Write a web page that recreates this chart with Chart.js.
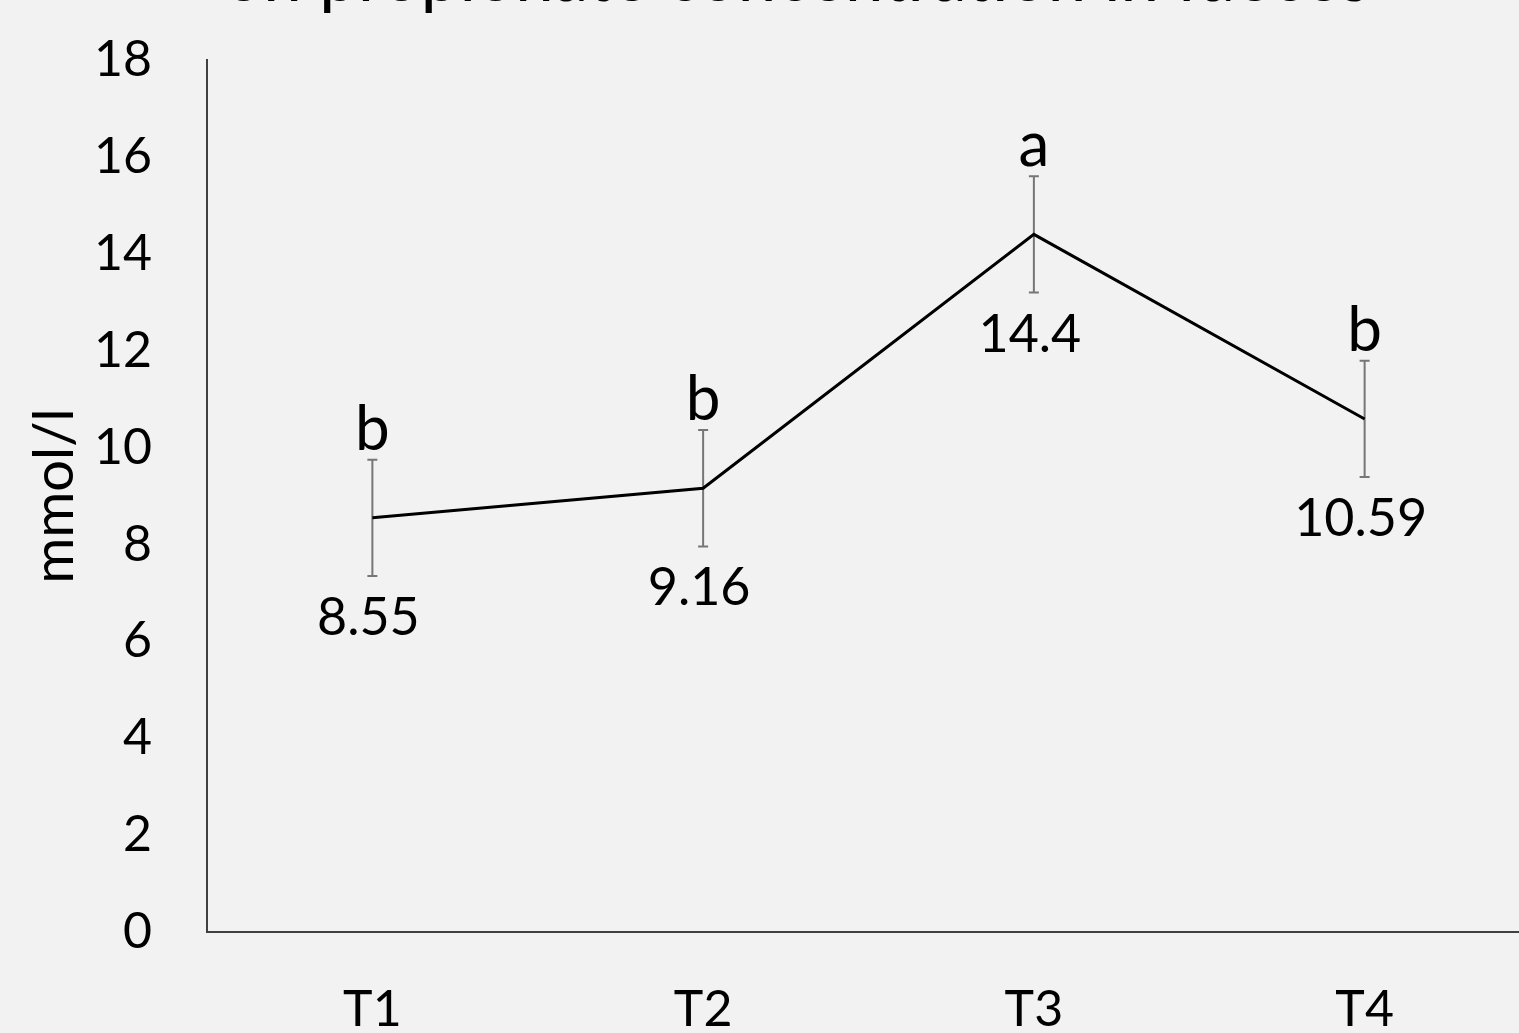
<!DOCTYPE html>
<html>
<head>
<meta charset="utf-8">
<script src="https://cdn.jsdelivr.net/npm/chart.js"></script>
<style>
  html, body { margin: 0; padding: 0; background: #f2f2f2; overflow: hidden; width: 1519px; height: 1033px; }
  #wrap { position: absolute; left: 0; top: -57px; width: 1594px; height: 1090px; }
</style>
</head>
<body>
<div id="wrap"><canvas id="chart"></canvas></div>
<script>
const categories = ['T1', 'T2', 'T3', 'T4'];
const means = [8.55, 9.16, 14.4, 10.59];
const errors = [1.2, 1.2, 1.2, 1.2];
const letters = ['b', 'b', 'a', 'b'];
const valueLabels = ['8.55', '9.16', '14.4', '10.59'];
const titleText = 'on propionate concentration in faeces';
const yTitle = 'mmol/l';

const fontFamily = 'Lato, "Open Sans", sans-serif';

const errorBars = {
  id: 'errorBars',
  beforeDatasetsDraw(chart) {
    const ctx = chart.ctx;
    const x = chart.scales.x;
    const y = chart.scales.y;
    ctx.save();
    ctx.strokeStyle = '#767676';
    ctx.lineWidth = 2;
    means.forEach(function(m, i) {
      const px = x.getPixelForValue(i);
      const top = y.getPixelForValue(m + errors[i]);
      const bot = y.getPixelForValue(m - errors[i]);
      ctx.beginPath();
      ctx.moveTo(px, top); ctx.lineTo(px, bot);
      ctx.moveTo(px - 5, top); ctx.lineTo(px + 5, top);
      ctx.moveTo(px - 5, bot); ctx.lineTo(px + 5, bot);
      ctx.stroke();
    });
    ctx.restore();
  },
  afterDatasetsDraw(chart) {
    const ctx = chart.ctx;
    const x = chart.scales.x;
    const y = chart.scales.y;
    ctx.save();
    ctx.fillStyle = '#000';
    ctx.textAlign = 'center';
    ctx.textBaseline = 'alphabetic';
    means.forEach(function(m, i) {
      const px = x.getPixelForValue(i);
      const top = y.getPixelForValue(m + errors[i]);
      const bot = y.getPixelForValue(m - errors[i]);
      ctx.font = '62px ' + fontFamily;
      ctx.fillText(letters[i], px, top - 10);
      ctx.font = '52px ' + fontFamily;
      ctx.fillText(valueLabels[i], px - 4, bot + 59);
    });
    ctx.restore();
  }
};

new Chart(document.getElementById('chart'), {
  type: 'line',
  data: {
    labels: categories,
    datasets: [{
      data: means,
      borderColor: '#000',
      borderWidth: 3,
      pointRadius: 0,
      tension: 0,
      fill: false
    }]
  },
  options: {
    responsive: true,
    maintainAspectRatio: false,
    animation: false,
    layout: { padding: { left: 64, right: 64, top: 0, bottom: 0 } },
    plugins: {
      legend: { display: false },
      tooltip: { enabled: false },
      title: {
        display: true,
        text: titleText,
        color: '#000',
        font: { family: fontFamily, size: 69, weight: 'normal', lineHeight: 1.0 },
        padding: { top: 1, bottom: 47 }
      }
    },
    scales: {
      x: {
        offset: true,
        grid: { display: true, drawOnChartArea: false, drawTicks: false },
        border: { display: true, color: '#404040', width: 2 },
        ticks: { color: '#000', padding: 48, font: { family: fontFamily, size: 50 } },
        afterFit: function(s) { s.height = 101; }
      },
      y: {
        min: 0,
        max: 18,
        grid: { display: true, drawOnChartArea: false, drawTicks: false },
        border: { display: true, color: '#404040', width: 2 },
        ticks: { stepSize: 2, color: '#000', padding: 55, font: { family: fontFamily, size: 50 } },
        title: {
          display: true,
          text: yTitle,
          color: '#000',
          font: { family: fontFamily, size: 56 },
          padding: { top: -43, bottom: 0 }
        },
        afterFit: function(s) { s.width = 143; }
      }
    }
  },
  plugins: [errorBars]
});
</script>
</body>
</html>
